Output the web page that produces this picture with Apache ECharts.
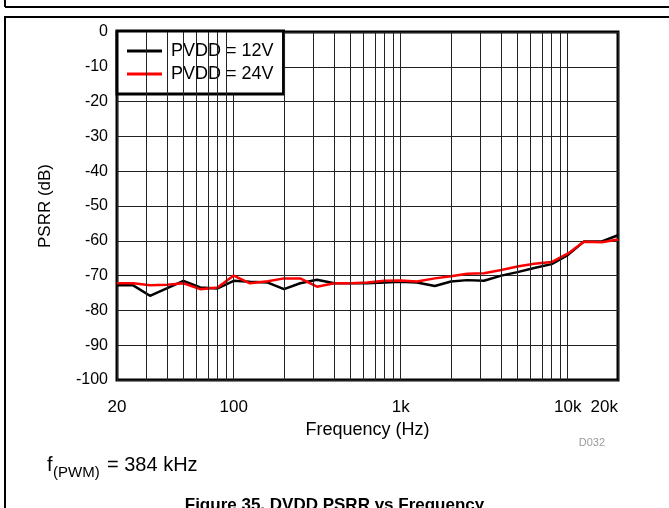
<!DOCTYPE html>
<html>
<head>
<meta charset="utf-8">
<script src="https://cdn.jsdelivr.net/npm/echarts@6/dist/echarts.min.js"></script>
<style>
  html, body { margin: 0; padding: 0; background: #fff; }
  #chart { width: 669px; height: 508px; }
</style>
</head>
<body>
<div id="chart"></div>
<script>
// 1/3-octave frequencies (Hz)
const freqs = [20, 25, 31.5, 40, 50, 63, 80, 100, 125, 160, 200, 250, 315, 400, 500, 630, 800,
  1000, 1250, 1600, 2000, 2500, 3150, 4000, 5000, 6300, 8000, 10000, 12500, 16000, 20000];

// PSRR (dB)
const psrr12 = [-72.8, -72.8, -75.8, -73.6, -71.5, -73.4, -73.7, -71.5, -71.8, -72.0, -73.9,
  -72.2, -71.2, -72.2, -72.2, -72.2, -72.0, -71.8, -72.0, -73.0, -71.7, -71.3, -71.5, -70.0,
  -69.0, -67.8, -66.7, -64.1, -60.2, -60.2, -58.4];
const psrr24 = [-72.2, -72.2, -72.8, -72.6, -72.2, -73.9, -73.4, -70.0, -72.2, -71.6, -70.8,
  -70.8, -73.2, -72.2, -72.2, -72.0, -71.5, -71.4, -71.7, -70.8, -70.2, -69.5, -69.3, -68.4,
  -67.4, -66.6, -66.1, -63.7, -60.3, -60.4, -59.6];

const seriesNames = ['PVDD = 12V', 'PVDD = 24V'];

// minor log grid lines
const minorGrid = [30, 40, 50, 60, 70, 80, 90, 200, 300, 400, 500, 600, 700, 800, 900,
  2000, 3000, 4000, 5000, 6000, 7000, 8000, 9000];

const FONT = 'Liberation Sans, Arial, sans-serif';

function pairs(vals) {
  return freqs.map((f, i) => [f, vals[i]]);
}

function fmtFreq(v) {
  v = Math.round(v);
  return v >= 1000 ? (v / 1000) + 'k' : String(v);
}

const chart = echarts.init(document.getElementById('chart'));

chart.setOption({
  animation: false,
  backgroundColor: '#fff',
  textStyle: { fontFamily: FONT },
  grid: {
    left: 117, right: 51, top: 32, bottom: 128,
    show: true, borderColor: '#000', borderWidth: 3,
    backgroundColor: 'transparent'
  },
  legend: {
    data: seriesNames,
    orient: 'vertical',
    left: 117, top: 31,
    padding: [10, 10, 10, 10],
    itemGap: 3,
    icon: 'rect',
    itemWidth: 35, itemHeight: 3,
    backgroundColor: '#fff',
    borderColor: '#000', borderWidth: 3, borderRadius: 0,
    textStyle: { fontSize: 18, color: '#000', fontFamily: FONT, lineHeight: 20, padding: [0, 0, 0, 4] }
  },
  xAxis: {
    type: 'log', logBase: 10, min: 20, max: 20000,
    name: 'Frequency (Hz)', nameLocation: 'middle', nameGap: 40,
    nameTextStyle: { fontSize: 18, color: '#000' },
    axisLine: { show: false },
    axisTick: { show: false },
    axisLabel: {
      fontSize: 17, color: '#000', margin: 19,
      formatter: fmtFreq, alignMaxLabel: 'right'
    },
    splitLine: { show: true, lineStyle: { color: '#222', width: 1 } }
  },
  yAxis: {
    type: 'value', min: -100, max: 0, interval: 10,
    name: 'PSRR (dB)', nameLocation: 'middle', nameGap: 63,
    nameTextStyle: { fontSize: 17, color: '#000' },
    axisLine: { show: false },
    axisTick: { show: false },
    axisLabel: { fontSize: 16, color: '#000', margin: 9 },
    splitLine: { show: true, lineStyle: { color: '#222', width: 1 } }
  },
  series: [
    {
      name: 'minor grid',
      type: 'line',
      data: [],
      z: 1,
      silent: true,
      markLine: {
        silent: true,
        symbol: ['none', 'none'],
        label: { show: false },
        lineStyle: { color: '#222', width: 1, type: 'solid' },
        emphasis: { disabled: true },
        data: minorGrid.map(f => ({ xAxis: f }))
      }
    },
    {
      name: seriesNames[0],
      type: 'line',
      data: pairs(psrr12),
      symbol: 'none',
      z: 3,
      lineStyle: { color: '#000', width: 2.5 },
      itemStyle: { color: '#000' }
    },
    {
      name: seriesNames[1],
      type: 'line',
      data: pairs(psrr24),
      symbol: 'none',
      z: 4,
      lineStyle: { color: '#ff0000', width: 2.5 },
      itemStyle: { color: '#ff0000' }
    }
  ],
  graphic: [
    { type: 'line', shape: { x1: 5, y1: 7, x2: 669, y2: 7 }, style: { stroke: '#000', lineWidth: 2 } },
    { type: 'line', shape: { x1: 5, y1: 0, x2: 5, y2: 7 }, style: { stroke: '#000', lineWidth: 2 } },
    { type: 'rect', shape: { x: 5, y: 17, width: 700, height: 520 }, style: { fill: 'none', stroke: '#000', lineWidth: 2 } },
    { type: 'text', right: 64, top: 437, style: { text: 'D032', fill: '#999', fontSize: 11, fontFamily: FONT } },
    { type: 'text', left: 47, top: 455, style: { text: 'f', fill: '#000', fontSize: 20, fontFamily: FONT } },
    { type: 'text', left: 53, top: 465, style: { text: '(PWM)', fill: '#000', fontSize: 15, fontFamily: FONT } },
    { type: 'text', left: 107, top: 455, style: { text: '= 384 kHz', fill: '#000', fontSize: 20, fontFamily: FONT } },
    { type: 'text', left: 'center', top: 497, style: { text: 'Figure 35. DVDD PSRR vs Frequency', fill: '#000', fontSize: 17, fontWeight: 'bold', fontFamily: FONT } }
  ]
});
</script>
</body>
</html>
